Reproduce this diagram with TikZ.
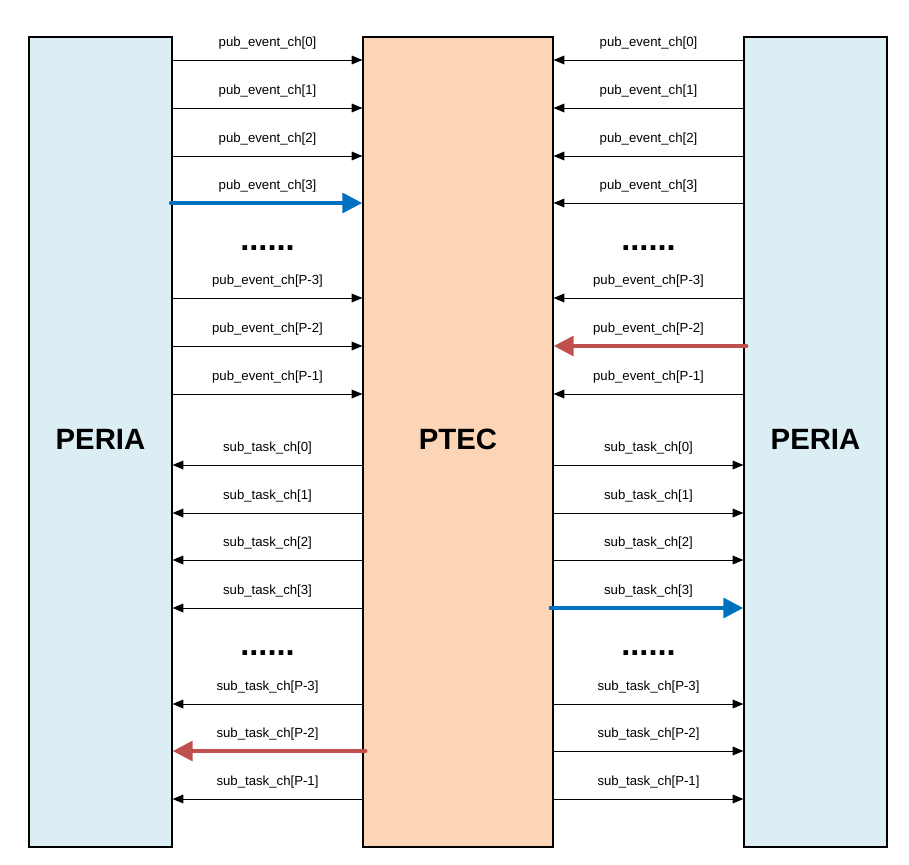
\documentclass[tikz,border=0pt]{standalone}
\usepackage{fontspec}
\setmainfont{Liberation Sans}
\usetikzlibrary{arrows.meta}
\definecolor{periafill}{HTML}{DAEEF3}
\definecolor{ptecfill}{HTML}{FBD5B5}
\definecolor{hlblue}{HTML}{0070C0}
\definecolor{hlred}{HTML}{C0504D}
\tikzset{
  block/.style={draw=black, line width=0.9pt, minimum height=607.5pt, inner sep=0pt,
    font=\fontsize{22}{26}\selectfont\bfseries},
  sig/.style={draw=black, line width=0.75pt, -{Triangle[length=8pt,width=6.5pt]}},
  bigsig/.style={line width=3.6pt, line cap=round, -{Triangle[length=15pt,width=14.5pt]}},
  lbl/.style={font=\fontsize{9.9}{12}\selectfont, inner sep=0pt},
  gap/.style={font=\fontsize{24.5}{28}\selectfont\bfseries, inner sep=0pt}
}
\begin{document}
\begin{tikzpicture}[x=0.75pt,y=-0.75pt]
\useasboundingbox (0,0) rectangle (909,864);

% peripheral blocks and the event controller
\node[block, fill=periafill, minimum width=107.25pt] (L) at (100.5,442) {};
\node[block, fill=ptecfill,  minimum width=142.5pt]  (P) at (458,442)   {};
\node[block, fill=periafill, minimum width=107.25pt] (R) at (815.5,442) {};
\node[font=\fontsize{22}{26}\selectfont\bfseries] (Lt) at (100.5,439.5) {PERIA};
\node[font=\fontsize{22}{26}\selectfont\bfseries] (Pt) at (458,439.5)   {PTEC};
\node[font=\fontsize{22}{26}\selectfont\bfseries] (Rt) at (815.5,439.5) {PERIA};

% publish channels: peripheral -> PTEC
\foreach \y/\t in {60/0,108/1,156/2,298/P-3,346/P-2,394/P-1}{
  \draw[sig] (L.east |- 0,\y) -- (P.west |- 0,\y);
  \node[lbl] at (267.5,\y-16.5) {pub\_event\_ch[\t]};
}
\foreach \y/\t in {60/0,108/1,156/2,203/3,298/P-3,394/P-1}{
  \draw[sig] (R.west |- 0,\y) -- (P.east |- 0,\y);
  \node[lbl] at (648.5,\y-16.5) {pub\_event\_ch[\t]};
}
\draw[bigsig, hlblue] ([xshift=-1pt]L.east |- 0,203) -- (P.west |- 0,203);
\node[lbl] at (267.5,186.5) {pub\_event\_ch[3]};
\draw[bigsig, hlred] ([xshift=2pt]R.west |- 0,346) -- (P.east |- 0,346);
\node[lbl] at (648.5,329.5) {pub\_event\_ch[P-2]};

% subscribe channels: PTEC -> peripheral
\foreach \y/\t in {465/0,513/1,560/2,608/3,704/P-3,799/P-1}{
  \draw[sig] (P.west |- 0,\y) -- (L.east |- 0,\y);
  \node[lbl] at (267.5,\y-16.5) {sub\_task\_ch[\t]};
}
\foreach \y/\t in {465/0,513/1,560/2,704/P-3,751/P-2,799/P-1}{
  \draw[sig] (P.east |- 0,\y) -- (R.west |- 0,\y);
  \node[lbl] at (648.5,\y-16.5) {sub\_task\_ch[\t]};
}
\draw[bigsig, hlred] ([xshift=2pt]P.west |- 0,751) -- (L.east |- 0,751);
\node[lbl] at (267.5,734.5) {sub\_task\_ch[P-2]};
\draw[bigsig, hlblue] ([xshift=-2pt]P.east |- 0,608) -- (R.west |- 0,608);
\node[lbl] at (648.5,591.5) {sub\_task\_ch[3]};

% omitted channels
\node[gap, anchor=base] (g1) at (267.5,250) {......};
\node[gap, anchor=base] (g2) at (648.5,250) {......};
\node[gap, anchor=base] (g3) at (267.5,655) {......};
\node[gap, anchor=base] (g4) at (648.5,655) {......};
\end{tikzpicture}
\end{document}
